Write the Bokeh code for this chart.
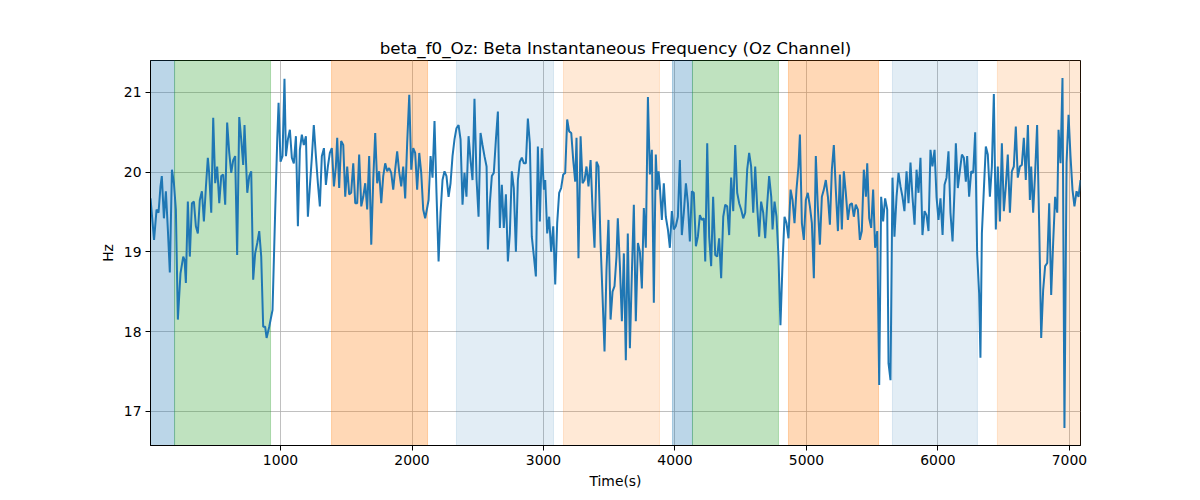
from bokeh.embed import file_html
from bokeh.models import BoxAnnotation, FixedTicker, Range1d
from bokeh.plotting import figure
from bokeh.resources import INLINE

FONT = "DejaVu Sans"
LINE_COLOUR = "#1f77b4"
GRID_COLOUR = "#b0b0b0"
TITLE = "beta_f0_Oz: Beta Instantaneous Frequency (Oz Channel)"

# sample times (s)
time_s = [
    11, 38, 57, 72, 87, 97, 113, 128, 143, 158, 174, 189, 204, 219, 239, 260, 270, 280, 295, 310,
    326, 341, 356, 371, 386, 402, 417, 432, 447, 457, 473, 488, 503, 518, 534, 549, 564, 579, 594, 610,
    625, 640, 655, 670, 686, 701, 716, 726,
    747, 762, 777, 792, 807, 823, 838, 853, 868, 883, 894, 914, 939, 959, 975, 985, 1000, 1015, 1030, 1041,
    1056, 1071, 1086, 1101, 1117, 1132, 1147, 1162, 1177, 1193, 1208, 1223, 1238, 1253, 1269, 1284, 1299, 1314, 1330, 1345,
    1360, 1375, 1390, 1406, 1421,
    1431, 1446, 1461, 1477, 1492, 1507, 1522, 1537, 1553, 1568, 1583, 1598, 1614, 1629, 1644, 1659, 1674, 1690, 1705, 1720,
    1735, 1750, 1766, 1781, 1796, 1811, 1826, 1842, 1857, 1872, 1887, 1902, 1918, 1933, 1948, 1963, 1979, 1994, 2009, 2024,
    2039, 2055, 2070, 2085, 2100, 2115, 2126,
    2141, 2156, 2171, 2186, 2202, 2217, 2232, 2247, 2262, 2278, 2293, 2308, 2323, 2338, 2354, 2369, 2384, 2399, 2414, 2430,
    2445, 2460, 2475, 2491, 2506, 2521, 2536, 2551, 2567, 2577, 2592, 2607, 2622, 2638, 2653, 2668, 2683, 2698, 2714, 2729,
    2744, 2759, 2774, 2790, 2805, 2820,
    2835, 2851, 2866, 2881, 2896, 2911, 2927, 2942, 2957, 2972, 2987, 3003, 3013, 3028, 3043, 3058, 3074, 3089, 3104, 3119,
    3134, 3150, 3165, 3180, 3195, 3211, 3226, 3241, 3251, 3266, 3282, 3297, 3312, 3327, 3342, 3358, 3373, 3388, 3403, 3418,
    3434, 3449, 3464, 3479, 3494, 3510, 3525,
    3540, 3555, 3565, 3581, 3596, 3611, 3626, 3641, 3657, 3672, 3687, 3702, 3718, 3733, 3748, 3763, 3778, 3794, 3809, 3824,
    3839, 3854, 3865, 3875, 3885, 3900, 3915, 3930, 3946, 3961, 3976, 3991, 4006, 4022, 4037, 4052, 4067, 4083, 4098, 4113,
    4128, 4143, 4159, 4174, 4189, 4204, 4219, 4230,
    4245, 4260, 4275, 4290, 4306, 4321, 4336, 4351, 4367, 4382, 4397, 4412, 4427, 4443, 4458, 4473, 4488, 4503, 4519, 4534,
    4549, 4564, 4579, 4595, 4610, 4625, 4640, 4655, 4671, 4686, 4701, 4716, 4732, 4742, 4757, 4772, 4787, 4802, 4818, 4833,
    4848, 4863, 4879, 4894, 4909, 4924,
    4939, 4950, 4965, 4980, 4995, 5010, 5026, 5041, 5056, 5071, 5086, 5102, 5117, 5132, 5147, 5163, 5178, 5193, 5208, 5223,
    5239, 5254, 5269, 5284, 5299, 5315, 5330, 5345, 5360, 5375, 5391, 5406, 5421, 5436, 5452, 5462, 5477, 5492, 5507, 5522,
    5538, 5553, 5568, 5583, 5598, 5614, 5624,
    5639, 5654, 5669, 5685, 5700, 5715, 5730, 5745, 5761, 5776, 5791, 5806, 5822, 5837, 5852, 5867, 5882, 5898, 5913, 5928,
    5943, 5958, 5974, 5989, 6004, 6019, 6035, 6050, 6065, 6080, 6095, 6111, 6126, 6136, 6151, 6166, 6182, 6197, 6212, 6222,
    6237, 6253, 6268, 6283, 6298, 6313, 6323,
    6334, 6349, 6364, 6379, 6395, 6410, 6425, 6440, 6455, 6471, 6486, 6501, 6516, 6531, 6547, 6562, 6577, 6592, 6607, 6623,
    6638, 6653, 6668, 6684, 6699, 6709, 6724, 6739, 6754, 6770, 6785, 6800, 6815, 6831, 6846, 6861, 6876, 6891, 6907, 6917,
    6932, 6947, 6962, 6978, 6993, 7008, 7023, 7038, 7054, 7069, 7084,
]

# beta instantaneous frequency (Hz)
beta_hz = [
    19.67, 19.15, 19.53, 19.49, 19.82, 19.95, 19.42, 19.76, 19.28, 18.74, 20.03, 19.86, 19.53, 18.15, 18.73, 18.94, 18.90, 18.61, 19.63, 18.94,
    19.61, 19.63, 19.32, 19.23, 19.65, 19.76, 19.38, 19.80, 20.18, 19.99, 19.49, 20.68, 19.86, 20.07, 19.61, 19.95, 19.97, 19.59, 20.62, 20.24,
    19.99, 20.15, 20.20, 18.96, 20.69, 20.41, 20.09, 20.59,
    19.74, 19.95, 20.01, 18.65, 18.98, 19.11, 19.26, 18.94, 18.06, 18.06, 17.92, 18.06, 18.27, 19.49, 20.41, 20.87, 20.13, 20.20, 21.17, 20.20,
    20.41, 20.53, 20.18, 20.11, 20.45, 19.32, 20.28, 20.47, 20.34, 20.45, 19.44, 19.82, 20.18, 20.59, 20.20, 19.86, 19.57, 20.20, 20.30, 19.84,
    20.07, 20.24, 20.30, 19.82, 20.07,
    20.43, 19.80, 20.39, 20.34, 19.69, 20.07, 19.72, 19.74, 20.11, 19.61, 19.61, 20.22, 19.57, 19.69, 19.86, 19.53, 20.20, 19.09, 19.90, 20.49,
    19.86, 20.01, 19.61, 19.95, 20.11, 20.01, 20.05, 19.99, 19.78, 20.03, 20.26, 20.01, 19.82, 20.07, 19.67, 20.36, 20.97, 20.03, 20.30, 20.24,
    19.78, 20.24, 19.99, 19.53, 19.42, 19.55, 19.65,
    20.20, 19.93, 20.64, 19.74, 18.88, 19.49, 19.90, 20.01, 19.95, 19.69, 19.86, 20.20, 20.41, 20.55, 20.59, 20.41, 19.59, 19.99, 19.69, 20.45,
    20.15, 19.90, 20.92, 19.90, 19.44, 20.49, 20.34, 20.20, 20.07, 19.03, 19.61, 19.95, 19.99, 20.41, 20.76, 19.30, 19.84, 19.30, 19.72, 18.88,
    19.23, 20.01, 19.80, 19.00, 19.90, 20.13,
    20.18, 20.11, 20.11, 20.67, 20.36, 19.19, 18.94, 18.69, 20.32, 19.38, 20.30, 19.78, 19.90, 19.23, 19.44, 19.00, 19.32, 18.59, 19.36, 19.74,
    19.80, 19.97, 19.99, 20.66, 20.51, 20.49, 20.15, 19.88, 20.43, 18.92, 20.45, 19.86, 19.90, 20.07, 19.82, 20.15, 19.53, 19.05, 20.13, 20.07,
    19.11, 18.44, 17.75, 18.77, 19.40, 18.15, 18.50,
    18.57, 18.94, 19.42, 18.82, 18.13, 18.98, 17.64, 19.23, 17.79, 18.73, 19.59, 18.13, 19.11, 19.00, 18.54, 19.55, 19.05, 20.94, 19.97, 20.28,
    18.36, 20.22, 19.78, 20.01, 19.82, 19.40, 19.86, 19.44, 19.28, 19.05, 19.51, 19.28, 19.32, 19.44, 20.15, 19.21, 19.49, 19.86, 19.61, 19.13,
    19.76, 19.74, 19.07, 19.19, 19.46, 19.40, 19.42, 18.88,
    20.36, 19.19, 18.82, 19.69, 18.96, 18.94, 19.17, 18.67, 19.44, 19.59, 19.57, 19.21, 19.93, 19.51, 20.34, 19.74, 19.61, 19.53, 19.42, 19.49,
    20.03, 20.24, 20.07, 19.49, 20.07, 19.57, 19.19, 19.63, 19.49, 19.17, 19.59, 19.95, 19.69, 19.28, 19.63, 19.44, 18.94, 18.08, 18.86, 19.44,
    19.36, 19.17, 19.78, 19.65, 19.36, 19.78,
    20.07, 20.47, 19.36, 19.15, 19.65, 19.74, 19.57, 19.36, 18.67, 20.20, 19.57, 19.09, 19.69, 19.78, 19.90, 19.69, 19.34, 20.03, 20.34, 19.78,
    19.26, 19.97, 19.28, 20.01, 19.74, 19.40, 19.59, 19.61, 19.44, 19.59, 19.53, 19.15, 19.26, 20.03, 19.69, 20.11, 19.42, 19.30, 19.78, 19.05,
    19.26, 17.33, 19.69, 19.38, 19.67, 19.53, 17.60,
    17.39, 19.93, 19.19, 19.69, 19.99, 19.82, 19.69, 19.51, 20.01, 19.61, 20.12, 19.69, 19.34, 20.03, 19.74, 20.18, 19.21, 19.51, 19.46, 19.26,
    20.28, 20.07, 20.28, 19.69, 19.40, 19.67, 19.21, 19.84, 19.93, 20.26, 19.49, 19.13, 19.78, 20.36, 19.80, 20.01, 20.22, 20.18, 19.88, 20.20,
    19.69, 20.01, 19.99, 20.50, 18.98, 18.48, 17.67,
    19.23, 19.78, 20.32, 20.22, 19.69, 20.07, 20.98, 19.28, 20.07, 19.38, 20.36, 19.51, 19.82, 20.22, 19.49, 20.01, 20.07, 20.57, 19.93, 20.07,
    20.09, 20.43, 19.90, 20.59, 19.65, 20.07, 19.49, 19.99, 20.59, 19.32, 17.92, 18.52, 18.82, 18.86, 19.61, 18.46, 19.11, 19.69, 19.49, 20.53,
    20.11, 21.18, 16.79, 20.11, 20.72, 20.20, 19.78, 19.57, 19.76, 19.69, 19.90,
]

# shaded epochs (s)
span_start = [11, 194, 1388, 2338, 3152, 3981, 4133, 4863, 5654, 6452]
span_end = [194, 924, 2118, 3076, 3882, 4133, 4787, 5548, 6300, 7084]
span_kind = ["blue", "green", "orange", "blue_light", "orange_light",
             "blue", "green", "orange", "blue_light", "orange_light"]

x_ticks = [1000, 2000, 3000, 4000, 5000, 6000, 7000]
y_ticks = [17, 18, 19, 20, 21]

SPAN_STYLE = {
    "blue": ("#1f77b4", 0.3),
    "green": ("#2ca02c", 0.3),
    "orange": ("#ff7f0e", 0.3),
    "blue_light": ("#1f77b4", 0.13),
    "orange_light": ("#ff7f0e", 0.17),
}


def main():
    assert len(time_s) == len(beta_hz)
    lo, hi = min(beta_hz), max(beta_hz)
    pad = (hi - lo) * 0.05

    p = figure(width=1200, height=500, output_backend="svg", toolbar_location=None,
               x_range=Range1d(time_s[0], time_s[-1]),
               y_range=Range1d(lo - pad, hi + pad),
               title=TITLE,
               min_border_left=150, min_border_right=120,
               min_border_top=60, min_border_bottom=55)
    p.background_fill_color = "white"
    p.border_fill_color = "white"
    p.outline_line_color = "black"
    p.outline_line_width = 1

    p.title.align = "center"
    p.title.text_font = FONT
    p.title.text_font_size = "16.7px"
    p.title.text_font_style = "normal"
    p.title.text_color = "black"
    p.title.standoff = 6

    for start, end, kind in zip(span_start, span_end, span_kind):
        colour, alpha = SPAN_STYLE[kind]
        p.add_layout(BoxAnnotation(left=start, right=end, fill_color=colour, fill_alpha=alpha,
                                   line_color=colour, line_alpha=alpha, line_width=1,
                                   level="underlay"))

    p.line(time_s, beta_hz, line_color=LINE_COLOUR, line_width=2)

    p.xaxis.ticker = FixedTicker(ticks=x_ticks)
    p.yaxis.ticker = FixedTicker(ticks=y_ticks)
    p.xaxis.axis_label = "Time(s)"
    p.yaxis.axis_label = "Hz"
    p.axis.axis_label_text_font = FONT
    p.axis.axis_label_text_font_size = "13.9px"
    p.axis.axis_label_text_font_style = "normal"
    p.axis.axis_label_text_color = "black"
    p.axis.axis_label_standoff = 5
    p.axis.major_label_text_font = FONT
    p.axis.major_label_text_font_size = "13.9px"
    p.axis.major_label_text_color = "black"
    p.axis.major_label_standoff = 4
    p.axis.axis_line_color = "black"
    p.axis.major_tick_line_color = "black"
    p.axis.major_tick_in = 0
    p.axis.major_tick_out = 5
    p.axis.minor_tick_line_color = None

    p.grid.grid_line_color = GRID_COLOUR
    p.grid.grid_line_width = 0.8

    open("out.html", "w").write(file_html(p, INLINE))


if __name__ == "__main__":
    main()
